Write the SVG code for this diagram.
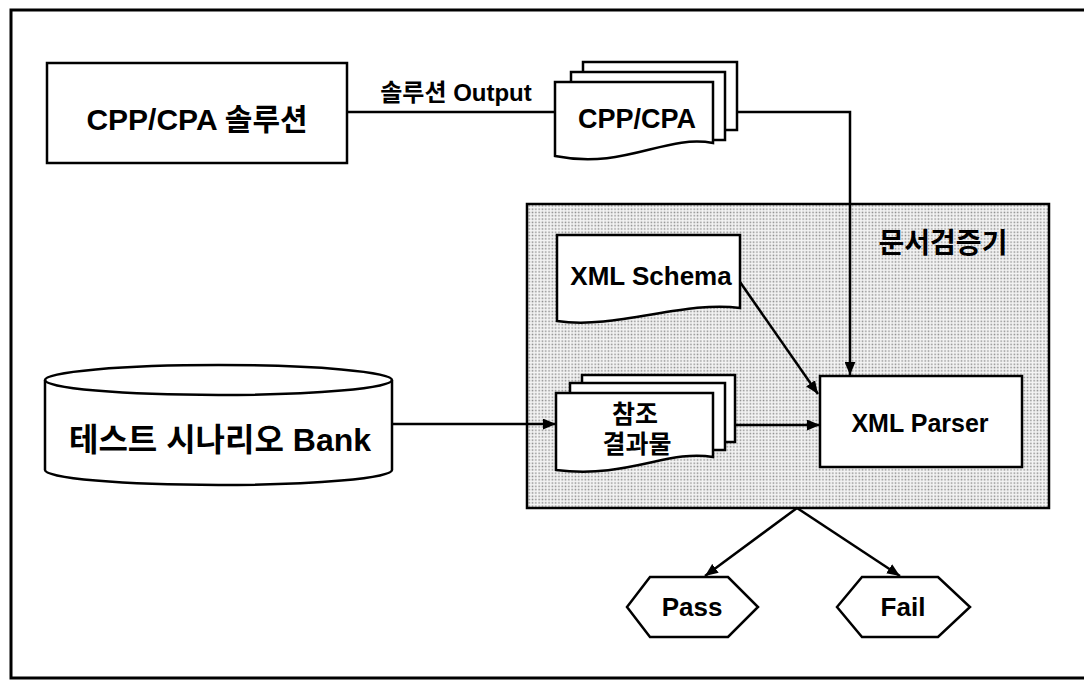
<svg xmlns="http://www.w3.org/2000/svg" width="1084" height="682" viewBox="0 0 1084 682">
<style>
.t{font-family:"Liberation Sans","Noto Sans CJK KR",sans-serif;font-weight:bold;fill:#000;text-anchor:middle}
.s{fill:#fff;stroke:#000;stroke-width:2.5}
.c{fill:none;stroke:#000;stroke-width:2.5}
</style>
<defs>
<pattern id="dots" width="3.3" height="3.3" patternUnits="userSpaceOnUse">
<rect width="3.3" height="3.3" fill="#f4f4f4"/>
<rect x="0.5" y="0.5" width="1.5" height="1.5" fill="#8a8a8a"/>
</pattern>
<marker id="ah" viewBox="0 0 12 10" refX="12" refY="5" markerWidth="13" markerHeight="11" orient="auto" markerUnits="userSpaceOnUse">
<path d="M0,0 L12,5 L0,10 z" fill="#000"/>
</marker>
</defs>
<path d="M1084,10 H11 V678 H1084" fill="none" stroke="#000" stroke-width="3"/>
<g id="validator">
<rect x="527" y="204" width="522" height="304" fill="url(#dots)" stroke="#000" stroke-width="2.5"/>
<text class="t" x="943" y="253" font-size="28">문서검증기</text>
</g>
<g id="solution">
<rect class="s" x="47" y="63" width="300" height="100"/>
<text class="t" x="197" y="130" font-size="30">CPP/CPA 솔루션</text>
</g>
<g id="cppcpa">
<rect class="s" x="583" y="62" width="154" height="68"/>
<rect class="s" x="571" y="72" width="154" height="68"/>
<path class="s" d="M555,82 H713 V143 C665,134 625,170 555,156 Z"/>
<text class="t" x="637" y="128" font-size="27">CPP/CPA</text>
</g>
<g id="schema">
<path class="s" d="M557,235 H740 V308 C685,300 615,330 557,321 Z"/>
<text class="t" x="651" y="285" font-size="26">XML Schema</text>
</g>
<g id="reference">
<rect class="s" x="582" y="375" width="153" height="67"/>
<rect class="s" x="570" y="383" width="155" height="67"/>
<path class="s" d="M556,393 H713 V457 C668,449 628,479 556,470 Z"/>
<text class="t" x="635" y="423" font-size="25">참조</text>
<text class="t" x="637" y="453" font-size="25">결과물</text>
</g>
<g id="parser">
<rect class="s" x="820" y="376" width="202" height="91"/>
<text class="t" x="920" y="432" font-size="25">XML Parser</text>
</g>
<g id="bank">
<path class="s" d="M45,380 V470 A173.5,15 0 0 0 392,470 V380 A173.5,15 0 0 0 45,380 Z"/>
<path class="c" d="M45,380 A173.5,15 0 0 0 392,380"/>
<text class="t" x="220" y="451" font-size="32">테스트 시나리오 Bank</text>
</g>
<g id="pass">
<polygon class="s" points="627,607 650,577 728,577 758,607 728,637 650,637"/>
<text class="t" x="692" y="616" font-size="26">Pass</text>
</g>
<g id="fail">
<polygon class="s" points="837,607 862,577 938,577 970,607 938,637 862,637"/>
<text class="t" x="903" y="616" font-size="26">Fail</text>
</g>
<g id="connectors">
<path class="c" d="M347,112 H555"/>
<text class="t" x="456" y="101" font-size="24">솔루션 Output</text>
<path class="c" d="M737,112 H850 V375" marker-end="url(#ah)"/>
<path class="c" d="M740,282 L818,394" marker-end="url(#ah)"/>
<path class="c" d="M392,424 H556" marker-end="url(#ah)"/>
<path class="c" d="M735,425 H820" marker-end="url(#ah)"/>
<path class="c" d="M797,508 L705,576" marker-end="url(#ah)"/>
<path class="c" d="M797,508 L900,576" marker-end="url(#ah)"/>
</g>
</svg>
